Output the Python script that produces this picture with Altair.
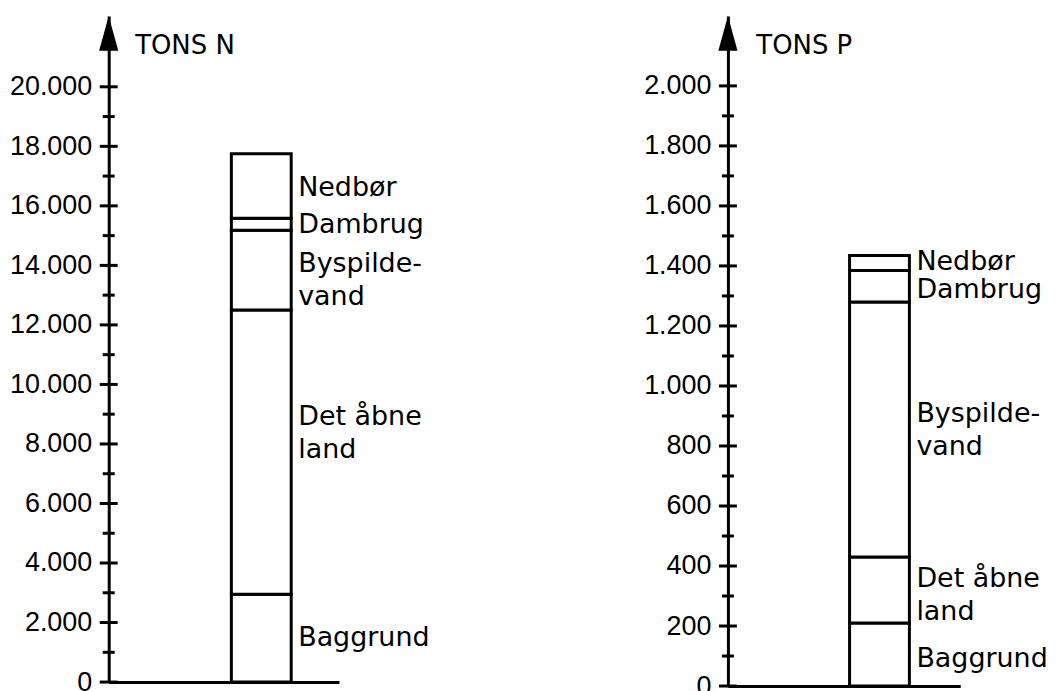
import altair as alt
import pandas as pd
import numpy as np

# ---- data ----
components = ["Baggrund", "Det åbne land", "Byspildevand", "Dambrug", "Nedbør"]
label_texts = ["Baggrund", "Det åbne\nland", "Byspilde-\nvand", "Dambrug", "Nedbør"]
n_tons = [2950, 9550, 2680, 400, 2170]      # tons N per source (stacked bottom->top)
p_tons = [210, 220, 850, 105, 50]           # tons P per source (stacked bottom->top)

n_major = list(range(0, 20001, 2000))
n_minor = list(range(1000, 20000, 2000))
p_major = list(range(0, 2001, 200))
p_minor = list(range(100, 2000, 200))

# ---- layout / style parameters (not data) ----
# pixel nudge of each label's first line from its segment's midpoint
n_label_nudge_px = [0, -35, -6, 1, 2]
p_label_nudge_px = [5, -11, -15, 4, -1]

LABEL_FONT = "DejaVu Sans"
TICK_FONT = "Liberation Sans"


def panel(name, title, values, major, minor, ymax, height, width,
          pad_outer, align, nudges, title_x):
    vals = np.array(values, dtype=float)
    hi = np.cumsum(vals)
    lo = hi - vals
    px_per_unit = height / ymax
    df = pd.DataFrame({
        "panel": name,
        "component": components,
        "text": label_texts,
        "lo": lo,
        "hi": hi,
    })
    df["label_y"] = (df["lo"] + df["hi"]) / 2 - np.array(nudges) / px_per_unit

    ys = alt.Scale(domain=[0, ymax], nice=False, zero=True)
    xs = alt.Scale(domain=["_a", "_b", name], paddingInner=0,
                   paddingOuter=pad_outer, align=align)

    yaxis = alt.Axis(
        values=major,
        labelExpr="replace(format(datum.value, ','), ',', '.')",
        ticks=False,
        grid=False,
        domain=True,
        domainWidth=3,
        domainColor="black",
        labelPadding=17,
        labelFont=TICK_FONT,
        labelFontSize=27,
        labelColor="black",
        labelFlush=False,
        labelOverlap=False,
        title=title,
        titleAngle=0,
        titleX=title_x,
        titleY=30,
        titleAlign="left",
        titleBaseline="middle",
        titleFont=LABEL_FONT,
        titleFontSize=26,
        titleFontWeight="normal",
        titleColor="black",
    )
    xaxis = alt.Axis(title=None, labels=False, ticks=False, grid=False,
                     domain=True, domainWidth=3, domainColor="black")

    bars = alt.Chart(df).mark_bar(fill="white", stroke="black", strokeWidth=3).encode(
        x=alt.X("panel:N", scale=xs, axis=xaxis),
        y=alt.Y("lo:Q", scale=ys, axis=yaxis),
        y2="hi:Q",
    )

    labels = alt.Chart(df).mark_text(
        align="left", baseline="middle", dx=37, font=LABEL_FONT, fontSize=27,
        lineBreak="\n", lineHeight=33, color="black",
    ).encode(
        x=alt.X("panel:N", scale=xs),
        y=alt.Y("label_y:Q", scale=ys),
        text="text:N",
    )

    major_ticks = alt.Chart(pd.DataFrame({"v": major})).mark_tick(
        orient="horizontal", size=18, thickness=3, color="black", opacity=1
    ).encode(x=alt.value(0), y=alt.Y("v:Q", scale=ys))

    minor_ticks = alt.Chart(pd.DataFrame({"v": minor})).mark_tick(
        orient="horizontal", size=12, thickness=3, color="black", opacity=1
    ).encode(x=alt.value(0), y=alt.Y("v:Q", scale=ys))

    arrow = alt.Chart(pd.DataFrame({"v": [ymax]})).mark_point(
        shape="M0,0L0.55,2L-0.55,2Z", size=1225, filled=True,
        color="black", opacity=1, strokeWidth=0,
    ).encode(x=alt.value(0), y=alt.Y("v:Q", scale=ys))

    return alt.layer(bars, major_ticks, minor_ticks, arrow, labels).properties(
        width=width, height=height
    )


left = panel("N", "TONS N", n_tons, n_major, n_minor, 22380, 668, 231,
             0.425, 0.059, n_label_nudge_px, 26)
right = panel("P", "TONS P", p_tons, p_major, p_minor, 2233, 672, 233,
              0.4417, 0.0377, p_label_nudge_px, 28)

chart = alt.hconcat(left, right, spacing=214).properties(
    padding={"left": 1, "top": 7, "right": 0, "bottom": 0},
    background="white",
).configure_view(stroke=None)

chart.save("out.html", embed_options={"renderer": "svg", "actions": False})
